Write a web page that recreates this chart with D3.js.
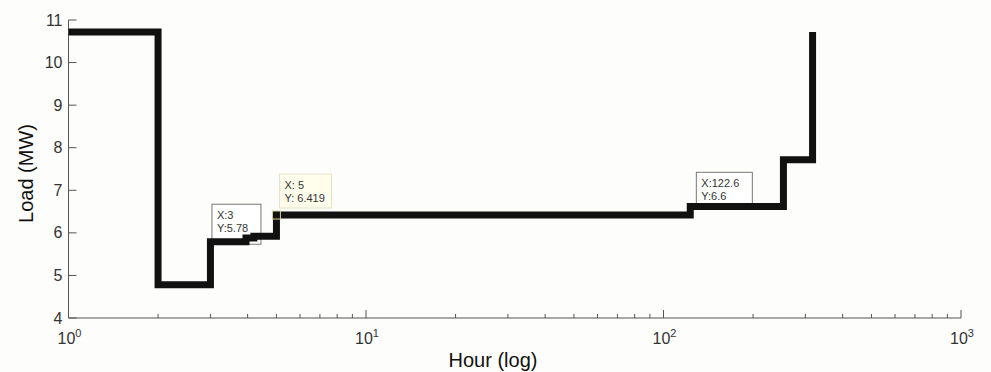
<!DOCTYPE html>
<html><head><meta charset="utf-8">
<script src="https://cdn.jsdelivr.net/npm/d3@7"></script>
<style>
html,body{margin:0;padding:0;background:#fdfdfb;}
svg{display:block;}
text{font-family:Arial,"Liberation Sans",sans-serif;}
</style></head>
<body>
<svg id="chart" width="991" height="372"></svg>
<script>
// Data (step load duration curve)
const hours = [1, 2, 3, 3.95, 4.2, 5, 123, 253, 317];
const loads = [10.72, 4.78, 5.79, 5.88, 5.92, 6.419, 6.62, 7.72, 10.72];
const yTicks = [4, 5, 6, 7, 8, 9, 10, 11];
const xMajor = [1, 10, 100, 1000];
const xExponents = ["0", "1", "2", "3"];
const tips = [
  {x: 3, y: 5.78, lines: ["X:3", "Y:5.78"], style: "plain"},
  {x: 5, y: 6.419, lines: ["X: 5", "Y: 6.419"], style: "active"},
  {x: 122.6, y: 6.6, lines: ["X:122.6", "Y:6.6"], style: "plain"}
];
const xTitle = "Hour (log)";
const yTitle = "Load (MW)";

const svg = d3.select("#chart");
const L = 68.5, R = 961, T = 20, B = 318;
const x = d3.scaleLog().domain([1, 1000]).range([L, R]);
const y = d3.scaleLinear().domain([4, 11]).range([B, T]);
const axisCol = "#555";

// minor ticks
const minor = [];
for (let d = 1; d < 1000; d *= 10) for (let k = 2; k <= 9; k++) minor.push(d * k);

const ax = svg.append("g").attr("class", "axes");
ax.append("line").attr("x1", L).attr("x2", L).attr("y1", T).attr("y2", B)
  .attr("stroke", axisCol).attr("stroke-width", 1);
ax.append("line").attr("x1", L).attr("x2", R).attr("y1", B).attr("y2", B)
  .attr("stroke", axisCol).attr("stroke-width", 1);
ax.selectAll(".yt").data(yTicks).enter().append("line")
  .attr("x1", L).attr("x2", L + 8).attr("y1", d => y(d)).attr("y2", d => y(d))
  .attr("stroke", axisCol);
ax.selectAll(".yl").data(yTicks).enter().append("text")
  .attr("x", L - 6).attr("y", d => y(d) + 5.5).attr("text-anchor", "end")
  .attr("font-size", 16).attr("fill", "#333").text(d => d);
ax.selectAll(".xt").data(xMajor).enter().append("line")
  .attr("x1", d => x(d)).attr("x2", d => x(d)).attr("y1", B).attr("y2", B - 8)
  .attr("stroke", axisCol);
ax.selectAll(".xm").data(minor).enter().append("line")
  .attr("x1", d => x(d)).attr("x2", d => x(d)).attr("y1", B).attr("y2", B - 4)
  .attr("stroke", axisCol);
const xl = ax.selectAll(".xl").data(xMajor).enter().append("text")
  .attr("x", d => x(d) + 1).attr("y", 343.5).attr("text-anchor", "middle")
  .attr("font-size", 16).attr("fill", "#333");
xl.append("tspan").text("10");
xl.append("tspan").attr("dy", -7).attr("font-size", 11).text((d, i) => xExponents[i]);

// titles
svg.append("text").attr("x", 493).attr("y", 367).attr("text-anchor", "middle")
  .attr("font-size", 20).attr("fill", "#111").text(xTitle);
svg.append("text").attr("transform", "translate(33,173.5) rotate(-90)")
  .attr("text-anchor", "middle").attr("font-size", 20).attr("fill", "#111").text(yTitle);

// data tips (boxes under the line)
const tipOffsets = {
  "3": {dx: 1.5, dy: -38, w: 49, h: 40},
  "5": {dx: 3, dy: -41, w: 52, h: 34},
  "122.6": {dx: 6.5, dy: -35, w: 56, h: 34}
};
const tg = svg.append("g");
tips.forEach(t => {
  const o = tipOffsets[String(t.x)];
  const px = x(t.x) + o.dx, py = y(t.y) + o.dy;
  const g = tg.append("g").attr("transform", `translate(${px},${py})`);
  g.append("rect").attr("width", o.w).attr("height", o.h)
    .attr("fill", t.style === "active" ? "#fffdec" : "#ffffff")
    .attr("stroke", t.style === "active" ? "#e6e2c4" : "#777")
    .attr("stroke-width", 1);
  t.lines.forEach((s, i) => {
    g.append("text").attr("x", 5).attr("y", 14.5 + i * 13.5)
      .attr("font-size", 11).attr("fill", "#333").text(s);
  });
});

// step line
const pts = hours.map((h, i) => [h, loads[i]]);
const line = d3.line().x(d => x(d[0])).y(d => y(d[1])).curve(d3.curveStepAfter);
svg.append("path").attr("d", line(pts)).attr("fill", "none")
  .attr("stroke", "#111").attr("stroke-width", 7)
  .attr("stroke-linejoin", "miter").attr("stroke-linecap", "butt");

// active datatip marker
const act = tips[1];
svg.append("rect").attr("x", x(act.x) - 4).attr("y", y(act.y) - 4)
  .attr("width", 8).attr("height", 8).attr("fill", "#111")
  .attr("stroke", "#d8cf9a").attr("stroke-width", 1);
</script>
</body></html>
